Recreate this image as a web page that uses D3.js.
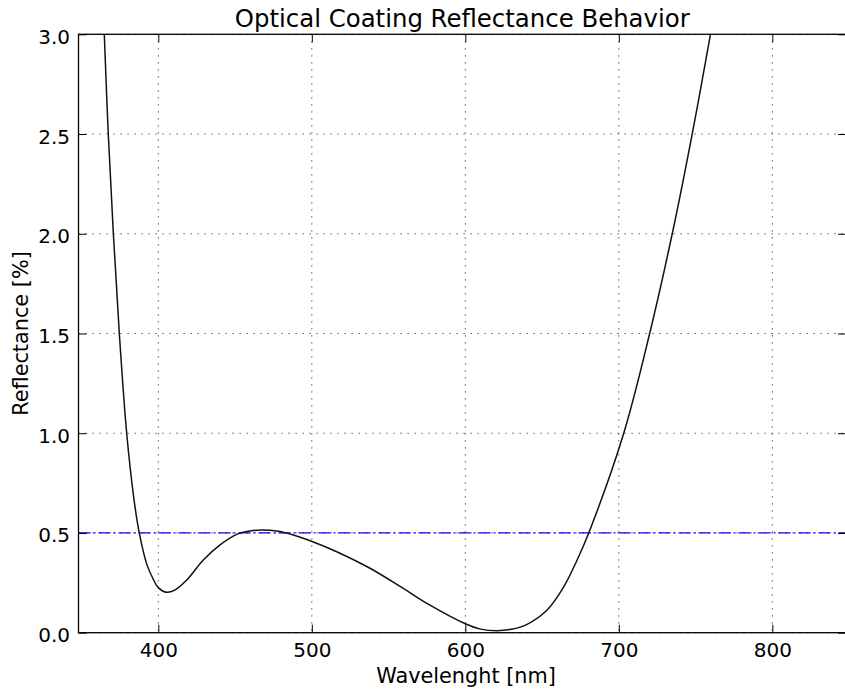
<!DOCTYPE html>
<html>
<head>
<meta charset="utf-8">
<script src="https://cdn.jsdelivr.net/npm/d3@7"></script>
<style>
  body { margin: 0; background: #fff; }
  svg { display: block; }
  text { font-family: "DejaVu Sans", sans-serif; fill: #000; }
</style>
</head>
<body>
<svg id="chart" width="845" height="690"></svg>
<script>
// data
var wavelength = [363, 364.8, 367.4, 370.7, 374.6, 379.4, 384.2, 387.6, 392.4, 396.7,
  400, 405.5, 411, 418.5, 429.3, 440.2, 451.1, 459.8, 467.4, 477.1, 488, 500.6, 516.2,
  537.9, 559.6, 575, 600, 610, 620.7, 630, 640.2, 653.3, 664.1, 672.4, 680.4,
  703.2, 720.1, 734.8, 747.8, 759.7, 765];
var reflectance = [3.35, 3.0, 2.5, 2.0, 1.5, 1.0, 0.665, 0.5, 0.345, 0.268,
  0.226, 0.2025, 0.215, 0.264, 0.364, 0.44, 0.493, 0.51, 0.515, 0.51, 0.49, 0.456, 0.406,
  0.323, 0.222, 0.147, 0.045, 0.018, 0.01, 0.017, 0.042, 0.114, 0.23, 0.357, 0.5,
  1.0, 1.5, 2.0, 2.5, 3.0, 3.24];
var xTicks = [400, 500, 600, 700, 800];
var yTicks = [0, 0.5, 1.0, 1.5, 2.0, 2.5, 3.0];
var threshold = 0.5;

var svg = d3.select('#chart');

// plot box (note: "top" is a reserved window prop, so keep these in an object)
var box = {left: 78.5, right: 846, top: 34.3, bottom: 632.7};
var W = box.right - box.left, H = box.bottom - box.top;

var x = d3.scaleLinear().domain([348, 848]).range([0, W]);
var y = d3.scaleLinear().domain([0, 3]).range([H, 0]);

var g = svg.append('g').attr('transform', 'translate(' + box.left + ',' + box.top + ')');

svg.append('defs').append('clipPath').attr('id', 'clip')
  .append('rect').attr('width', W).attr('height', H);

// grid
g.append('g').selectAll('line').data(xTicks).enter().append('line')
  .attr('x1', function(d){ return x(d); }).attr('x2', function(d){ return x(d); })
  .attr('y1', 0).attr('y2', H)
  .attr('stroke', '#000').attr('stroke-width', 0.8).attr('stroke-dasharray', '1.2,5.8');
g.append('g').selectAll('line').data(yTicks).enter().append('line')
  .attr('y1', function(d){ return y(d); }).attr('y2', function(d){ return y(d); })
  .attr('x1', 0).attr('x2', W)
  .attr('stroke', '#000').attr('stroke-width', 0.8).attr('stroke-dasharray', '1.2,5.8');

// threshold line
g.append('line')
  .attr('x1', 0).attr('x2', W)
  .attr('y1', y(threshold)).attr('y2', y(threshold))
  .attr('stroke', '#0000ff').attr('stroke-width', 1.3)
  .attr('stroke-dasharray', '12.1,3,1.9,3');

// reflectance curve
var pts = wavelength.map(function(w, i){ return [w, reflectance[i]]; });
var line = d3.line()
  .x(function(d){ return x(d[0]); })
  .y(function(d){ return y(d[1]); })
  .curve(d3.curveCatmullRom.alpha(0.5));
g.append('path')
  .datum(pts)
  .attr('clip-path', 'url(#clip)')
  .attr('fill', 'none')
  .attr('stroke', '#111')
  .attr('stroke-width', 1.5)
  .attr('d', line);

// axes, ticks pointing inward like classic matplotlib
var xAxis = g.append('g').attr('transform', 'translate(0,' + H + ')')
  .call(d3.axisBottom(x).tickValues(xTicks).tickSize(-8).tickFormat(d3.format('d')));
xAxis.selectAll('text').attr('y', 24.3).attr('dy', 0);

var yAxis = g.append('g')
  .call(d3.axisLeft(y).tickValues(yTicks).tickSize(-8).tickPadding(8.5).tickFormat(d3.format('.1f')));
yAxis.selectAll('text').attr('dy', 9);

g.append('g')
  .call(d3.axisTop(x).tickValues(xTicks).tickSize(-8).tickFormat(''));
g.append('g').attr('transform', 'translate(' + W + ',0)')
  .call(d3.axisRight(y).tickValues(yTicks).tickSize(-8).tickFormat(''));

g.selectAll('.domain').remove();
g.selectAll('.tick line').attr('stroke', '#000').attr('stroke-width', 1);
g.selectAll('.tick text').style('font-size', '20px').style('font-family', '"DejaVu Sans", sans-serif').attr('fill', '#000');

// frame
g.append('rect').attr('width', W).attr('height', H)
  .attr('fill', 'none').attr('stroke', '#000').attr('stroke-width', 1.3);

// labels
svg.append('text').attr('x', box.left + W / 2).attr('y', 27)
  .attr('text-anchor', 'middle').style('font-size', '24.4px')
  .text('Optical Coating Reflectance Behavior');
svg.append('text').attr('x', 466).attr('y', 683)
  .attr('text-anchor', 'middle').style('font-size', '20.8px')
  .text('Wavelenght [nm]');
svg.append('text')
  .attr('transform', 'translate(28,' + (box.top + H / 2) + ') rotate(-90)')
  .attr('text-anchor', 'middle').style('font-size', '20.8px')
  .text('Reflectance [%]');
</script>
</body>
</html>
